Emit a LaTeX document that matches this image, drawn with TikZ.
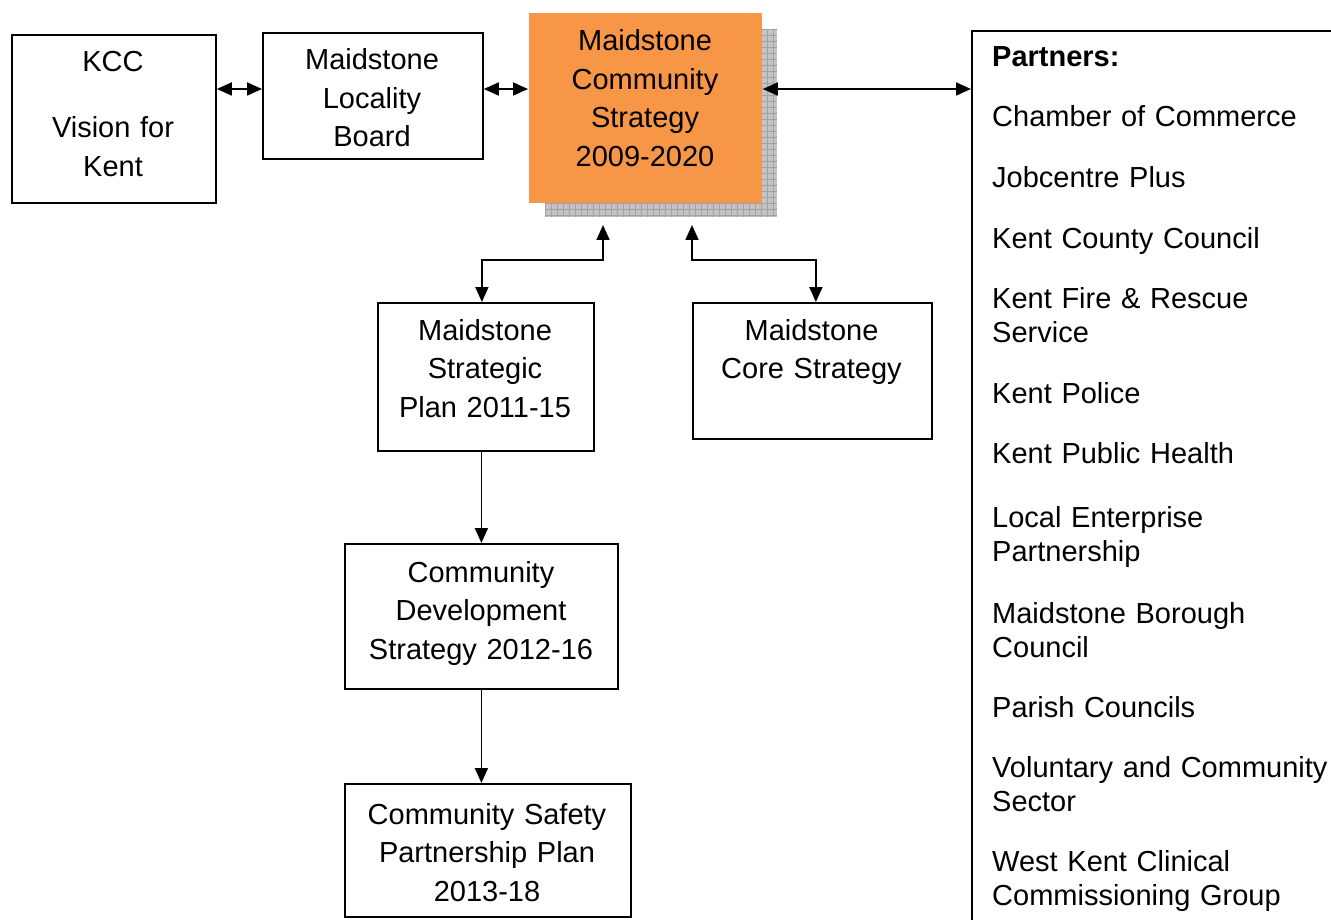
\documentclass[tikz,border=0pt]{standalone}
\usepackage{fontspec}
\setmainfont{Liberation Sans}
\usetikzlibrary{arrows.meta,calc}
\definecolor{orangefill}{HTML}{F79646}
\definecolor{shadowfill}{HTML}{C4C4C4}
\definecolor{shadowgrid}{HTML}{A2A2A2}
\begin{document}
\begin{tikzpicture}[x=1pt,y=-1pt,
  box/.style={draw=black, line width=1.8pt, rectangle, inner sep=0pt, anchor=north west},
  txt/.style={anchor=base, align=center, inner sep=0pt, font=\fontsize{29}{38.5}\selectfont},
  ptxt/.style={anchor=base west, align=left, inner sep=0pt, text width=345pt, font=\fontsize{29}{34}\selectfont},
  link/.style={line width=1.8pt, -{Triangle[length=15pt,width=13pt]}},
  blink/.style={line width=1.8pt, {Triangle[length=15pt,width=13pt]}-{Triangle[length=15pt,width=13pt]}}]
\useasboundingbox (0,0) rectangle (1331,920);
\clip (0,0) rectangle (1331,920);

% shadow of the central box
\begin{scope}
  \clip (545,29) rectangle (777,217);
  \fill[shadowfill] (545,29) rectangle (777,217);
  \foreach \gx in {545,551,...,779} { \draw[shadowgrid, line width=0.5pt] (\gx,29) -- (\gx,217); }
  \foreach \gy in {29,35,...,219} { \draw[shadowgrid, line width=0.5pt] (545,\gy) -- (777,\gy); }
\end{scope}

% boxes
\node[box, minimum width=204pt, minimum height=168pt] (kcc) at (11,34) {};
\node[txt, text width=200pt] (kcct) at (113,72) {KCC\\[27.5pt]Vision for\\Kent};

\node[box, minimum width=220pt, minimum height=126pt] (loc) at (262,32) {};
\node[txt, text width=216pt] (loct) at (372,70) {Maidstone\\Locality\\Board};

\node[box, draw=none, fill=orangefill, minimum width=233pt, minimum height=190pt] (orange) at (528,12) {};
\node[txt, text width=229pt] (oranget) at (645,51) {Maidstone\\Community\\Strategy\\2009-2020};

\node[box, minimum width=216pt, minimum height=148pt] (splan) at (377,302) {};
\node[txt, text width=212pt] (splant) at (485,340) {Maidstone\\Strategic\\Plan 2011-15};

\node[box, minimum width=239pt, minimum height=136pt] (core) at (692,302) {};
\node[txt, text width=235pt] (coret) at (811.5,340) {Maidstone\\Core Strategy};

\node[box, minimum width=273pt, minimum height=145pt] (cdev) at (344,543) {};
\node[txt, text width=269pt] (cdevt) at (481,582) {Community\\Development\\Strategy 2012-16};

\node[box, minimum width=286pt, minimum height=133pt] (csp) at (344,783) {};
\node[txt, text width=282pt] (cspt) at (487,824) {Community Safety\\Partnership Plan\\2013-18};

\node[box, minimum width=420pt, minimum height=960pt] (partners) at (971,30) {};
\node[ptxt] (p0) at (992,67) {\textbf{Partners:}};
\node[ptxt] (p1) at (992,127) {Chamber of Commerce};
\node[ptxt] (p2) at (992,188) {Jobcentre Plus};
\node[ptxt] (p3) at (992,248) {Kent County Council};
\node[ptxt] (p4) at (992,308) {Kent Fire \& Rescue\\Service};
\node[ptxt] (p5) at (992,403) {Kent Police};
\node[ptxt] (p6) at (992,463) {Kent Public Health};
\node[ptxt] (p7) at (992,527) {Local Enterprise\\Partnership};
\node[ptxt] (p8) at (992,623) {Maidstone Borough\\Council};
\node[ptxt] (p9) at (992,717) {Parish Councils};
\node[ptxt] (p10) at (992,777) {Voluntary and Community\\Sector};
\node[ptxt] (p11) at (992,871) {West Kent Clinical\\Commissioning Group};

% connectors
\coordinate (row) at (0,89);
\draw[blink] (kcc.east |- row) -- (loc.west |- row);
\draw[blink] (loc.east |- row) -- (orange.west |- row);
\draw[blink] (orange.east |- row) -- (partners.west |- row);

\coordinate (upL) at (603,225);
\coordinate (upR) at (692,225);
\draw[blink] (upL) -- ++(0,35) -| ([xshift=-4pt]splan.north);
\draw[blink] (upR) -- ++(0,35) -| ([xshift=3.5pt]core.north);

\draw[link] (cdev.north |- splan.south) -- (cdev.north);
\draw[link] (cdev.south) -- (cdev.south |- csp.north);
\end{tikzpicture}
\end{document}
